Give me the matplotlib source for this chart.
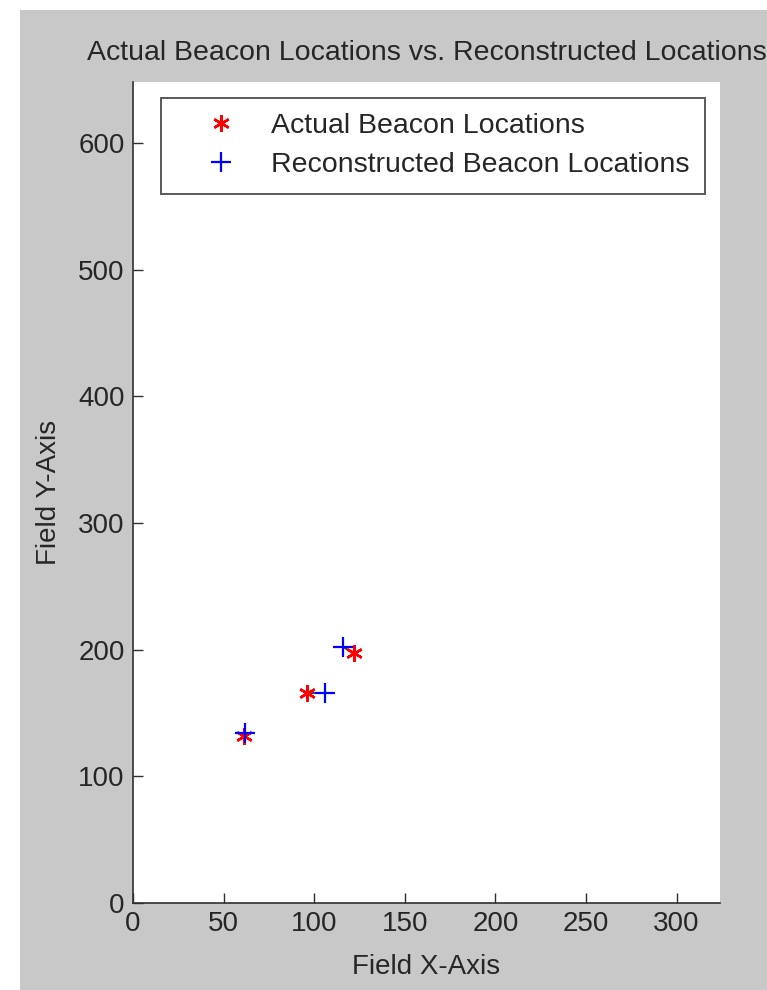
import numpy as np
import matplotlib.pyplot as plt
from matplotlib.patches import Rectangle

plt.rcParams['font.family'] = ['Liberation Sans', 'DejaVu Sans']

# beacon positions
actual_x = [61, 96, 122]
actual_y = [132, 166, 197]
recon_x = [62, 106, 116]
recon_y = [134, 166, 202]

fig = plt.figure(figsize=(7.67, 9.9), dpi=100)
fig.patch.set_facecolor('white')
# matlab style gray window area
fig.patches.append(Rectangle((20/767, 0), 1, 1 - 10/990, transform=fig.transFigure,
                             facecolor='#c8c8c8', edgecolor='none', zorder=-10))

ax = fig.add_axes([133/767, 1 - 903/990, 587/767, 821/990])
ax.set_facecolor('white')

for i in range(len(actual_x)):
    ax.plot([actual_x[i], recon_x[i]], [actual_y[i], recon_y[i]], color='#333333', lw=1.3, zorder=2)

ax.plot(actual_x, actual_y, marker=(6, 2, 0), color='red', ms=12, mew=1.8, ls='none',
        label='Actual Beacon Locations', zorder=3)
ax.plot(recon_x, recon_y, '+', color='blue', ms=15, mew=1.6, ls='none',
        label='Reconstructed Beacon Locations', zorder=4)

ax.set_xlim(0, 324)
ax.set_ylim(0, 648)
ax.set_xticks(np.arange(0, 301, 50))
ax.set_yticks(np.arange(0, 601, 100))

for s in ['top', 'right']:
    ax.spines[s].set_visible(False)
for s in ['left', 'bottom']:
    ax.spines[s].set_color('#303030')
    ax.spines[s].set_linewidth(1.2)
ax.tick_params(direction='in', length=7, width=1, color='#303030',
               labelsize=20, labelcolor='#262626', pad=6)

ax.set_title('Actual Beacon Locations vs. Reconstructed Locations', fontsize=20.5,
             color='#262626', pad=16)
ax.set_xlabel('Field X-Axis', fontsize=20, color='#262626', labelpad=12)
ax.set_ylabel('Field Y-Axis', fontsize=20, color='#262626', labelpad=12)

leg = ax.legend(loc='upper left', bbox_to_anchor=(0.048, 0.981), borderaxespad=0,
                fontsize=20.5, frameon=True, fancybox=False, handlelength=3.1,
                handletextpad=0.2, borderpad=0.55, labelspacing=0.45)
leg.get_frame().set_edgecolor('#303030')
leg.get_frame().set_linewidth(1.4)
for t in leg.get_texts():
    t.set_color('#262626')

fig.savefig('out.png', dpi=100, facecolor=fig.get_facecolor())
